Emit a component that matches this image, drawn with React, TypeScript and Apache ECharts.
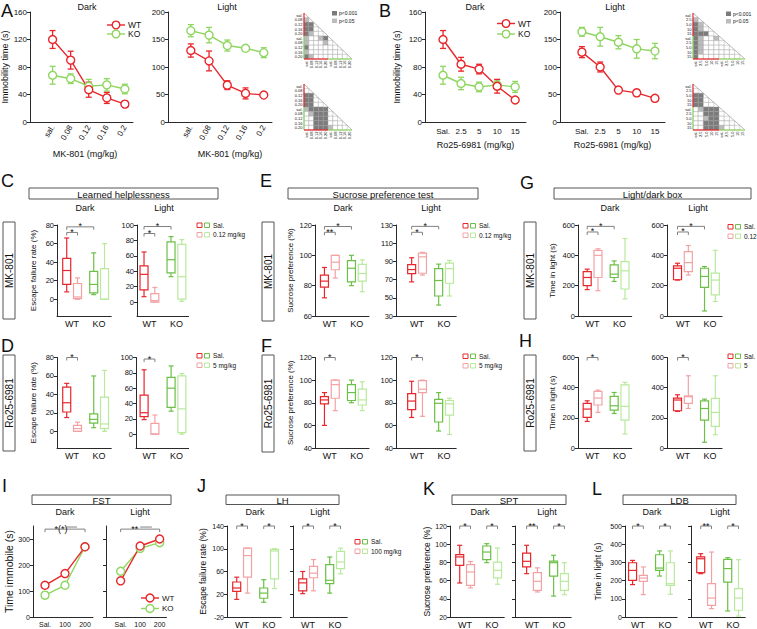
import React, { useEffect, useRef } from 'react';
import * as echarts from 'echarts';

const FONT = '"Liberation Sans", Arial, Helvetica, sans-serif';
const RED = '#e8262b';
const PINK = '#f3a2a4';
const KO_GREEN = '#8fd660';
const GREEN = '#6cc047';
const LGREEN = '#b8e99d';
const AXIS_C = '#2a2a2a';
const TXT = '#111111';
const BR_C = '#808080';
const HM_COLORS = ['#ffffff', '#bcbcbc', '#7b7b7b'];
const BOX_COLORS = [RED, PINK, GREEN, LGREEN];
const BOX_POS = [0.8, 1.2, 1.8, 2.2];
const GROUPS = ['WT', 'KO'];

// ---------- Panel A : MK-801 FST ----------
const A_DOSES = ['sal.', '0.08', '0.12', '0.16', '0.2'];
const A_DARK_WT = [120, 90, 47, 35, 26];
const A_DARK_WT_SEM = [13, 13, 11, 8, 4];
const A_DARK_KO = [68, 63, 52, 54, 48];
const A_DARK_KO_SEM = [13, 7, 10, 9, 7];
const A_LIGHT_WT = [130, 111, 67, 52, 49];
const A_LIGHT_WT_SEM = [12, 18, 8, 10, 2];
const A_LIGHT_KO = [166, 158, 139, 134, 126];
const A_LIGHT_KO_SEM = [11, 14, 10, 3, 9];
const A_TICKS_DARK = [0, 40, 80, 120, 160];
const A_TICKS_LIGHT = [0, 50, 100, 150, 200];

// ---------- Panel B : Ro25-6981 FST ----------
const B_DOSES = ['Sal.', '2.5', '5', '10', '15'];
const B_DARK_WT = [120, 84, 77, 52, 32];
const B_DARK_WT_SEM = [13, 10, 7, 10, 3];
const B_DARK_KO = [68, 56, 51, 54, 51];
const B_DARK_KO_SEM = [13, 9, 7, 7, 8];
const B_LIGHT_WT = [127, 100, 58, 53, 43];
const B_LIGHT_WT_SEM = [10, 9, 5, 6, 5];
const B_LIGHT_KO = [164, 155, 145, 133, 129];
const B_LIGHT_KO_SEM = [8, 17, 12, 17, 14];

// ---------- significance matrices (0 n.s., 1 p<0.05, 2 p<0.001) ----------
const HM_A_LABELS = ['sal.', '0.08', '0.12', '0.16', '0.20', 'sal.', '0.08', '0.12', '0.16', '0.20'];
const HM_B_LABELS = ['sal.', '2.5', '5.0', '10', '15', 'sal.', '2.5', '5.0', '10', '15'];
const HM_A_DARK = [[1], [2, 2], [2, 2, 0], [2, 1, 0, 0], [1, 0, 0, 1, 2], [1, 0, 0, 0, 1, 0], [2, 0, 0, 0, 0, 0, 0], [1, 0, 0, 0, 0, 0, 0, 0], [2, 1, 0, 0, 0, 0, 0, 0, 0]];
const HM_A_LIGHT = [[0], [2, 2], [2, 2, 0], [2, 2, 0, 0], [1, 2, 2, 2, 2], [0, 1, 2, 2, 2, 0], [0, 0, 2, 2, 2, 0, 0], [0, 0, 2, 2, 2, 0, 0, 0], [0, 0, 2, 2, 2, 1, 0, 0, 0]];
const HM_B_DARK = [[1], [2, 1], [2, 1, 0], [2, 2, 2, 0], [2, 1, 0, 0, 1], [2, 1, 0, 0, 0, 0], [2, 1, 0, 0, 0, 0, 0], [2, 1, 0, 0, 0, 0, 0, 0], [2, 0, 0, 0, 0, 0, 0, 0, 0]];
const HM_B_LIGHT = [[0], [2, 2], [2, 2, 0], [2, 2, 0, 0], [0, 1, 2, 2, 2], [0, 0, 2, 2, 2, 0], [0, 0, 1, 2, 2, 0, 0], [0, 0, 2, 2, 2, 0, 0, 0], [0, 0, 2, 2, 2, 1, 0, 0, 0]];

// ---------- Box panels: [min, q1, median, q3, max] ; WT Sal, WT drug, KO Sal, KO drug ----------
const C_DARK = [[8, 16, 31, 44, 66], [0, 0.7, 2.5, 17, 23], [5, 7, 16, 30, 50], [0, 0, 0, 33, 60]];
const C_LIGHT = [[7, 16, 36, 47, 65], [0, 0, 2, 11, 19], [33, 38, 55, 78, 85], [1, 4, 33, 75, 81]];
const D_DARK = [[15, 21, 31, 48, 52], [0, 0, 3, 6.5, 10], [4, 9, 13, 19, 60], [0, 3, 8, 37, 66]];
const D_LIGHT = [[19, 23, 28, 51, 84], [0, 0, 0, 14, 25], [30, 35, 60, 74, 89], [0, 2, 33, 76, 79]];
const E_DARK = [[72, 79, 83, 87, 92], [85, 90.5, 95.5, 100, 100], [80, 82.5, 91.5, 96.5, 100], [76, 83, 88, 94, 97]];
const E_LIGHT = [[67.5, 76.5, 81, 86.5, 94], [75, 77, 95, 99, 100], [42, 52, 69, 82, 87], [52, 66, 82, 88, 91]];
const F_DARK = [[60, 79, 82.5, 85.5, 89], [73, 84, 96, 100, 100], [80, 82, 89, 96, 100], [73, 78, 82.5, 92, 98.5]];
const F_LIGHT = [[67, 74, 81.5, 88, 99], [68, 89, 92, 99.5, 100], [55, 63, 79.5, 83, 89], [52, 69, 79, 82, 84]];
const G_DARK = [[174, 200, 254, 293, 309], [167, 254, 400, 433, 443], [228, 254, 276, 337, 363], [113, 178, 298, 359, 511]];
const G_LIGHT = [[237, 239, 315, 330, 348], [270, 293, 352, 424, 465], [33, 189, 261, 315, 326], [96, 139, 237, 283, 433]];
const H_DARK = [[176, 203, 258, 296, 313], [236, 285, 331, 375, 384], [229, 251, 280, 342, 368], [93, 185, 276, 419, 435]];
const H_LIGHT = [[243, 247, 318, 331, 353], [262, 296, 340, 346, 479], [38, 185, 262, 313, 324], [88, 143, 236, 329, 479]];
const J_DARK = [[11, 25, 31, 41.5, 50], [22, 50, 88, 101, 101], [6, 13, 22, 31, 45.6], [30, 47, 96, 99, 100]];
const J_LIGHT = [[21, 26, 40, 47, 60], [26, 49, 57, 69, 81], [22, 38.6, 44.5, 72, 85.5], [56, 65, 76.7, 95.5, 101]];
const K_DARK = [[57.4, 76.8, 86, 88.5, 98.8], [52, 54.8, 69.5, 77.5, 81], [79.7, 83, 91.4, 98, 100.6], [56, 62.9, 71.3, 80.4, 95.8]];
const K_LIGHT = [[67.6, 75, 81.2, 90.3, 98.8], [47.5, 49.3, 59.2, 68.7, 74], [43, 65, 79.7, 81.5, 87.8], [44.5, 49.3, 59.2, 67.6, 79.7]];
const L_DARK = [[178, 201, 256, 298, 311], [123, 196, 214, 229, 275], [225, 256, 269, 342, 363], [125, 174, 183, 298, 363]];
const L_LIGHT = [[238, 244, 320, 330, 348], [46, 64, 104, 183, 357], [33, 192, 266, 317, 326], [5, 37, 104, 156, 315]];

// significance brackets: [box a, box b, height, label]
const C_DARK_SIG = [[0, 1, 72, '*'], [0, 2, 78, '*']];
const C_LIGHT_SIG = [[0, 1, 89, '*'], [0, 2, 98, '*']];
const D_DARK_SIG = [[0, 1, 80, '*']];
const D_LIGHT_SIG = [[0, 1, 98, '*']];
const E_DARK_SIG = [[0, 1, 115.2, '**'], [0, 2, 119, '*']];
const E_LIGHT_SIG = [[0, 1, 122, '*'], [0, 2, 128.5, '*']];
const F_DARK_SIG = [[0, 1, 120, '*']];
const F_LIGHT_SIG = [[0, 1, 120, '*']];
const G_DARK_SIG = [[0, 1, 554, '*'], [0, 2, 591, '*']];
const G_LIGHT_SIG = [[0, 1, 554, '*'], [0, 2, 591, '*']];
const H_DARK_SIG = [[0, 1, 600, '*']];
const H_LIGHT_SIG = [[0, 1, 600, '*']];
const J_DARK_SIG = [[0, 1, 140, '*'], [2, 3, 140, '*']];
const J_LIGHT_SIG = [[0, 1, 140, '*'], [2, 3, 140, '*']];
const K_DARK_SIG = [[0, 1, 120, '*'], [2, 3, 120, '*']];
const K_LIGHT_SIG = [[0, 1, 120, '**'], [2, 3, 120, '*']];
const L_DARK_SIG = [[0, 1, 500, '*'], [2, 3, 500, '*']];
const L_LIGHT_SIG = [[0, 1, 500, '**'], [2, 3, 500, '*']];

// ---------- Panel I : FST ketamine-like ----------
const I_DOSES = ['Sal.', '100', '200'];
const I_DARK_WT = [122, 167, 270];
const I_DARK_WT_SEM = [5, 8, 6];
const I_DARK_KO = [84, 122, 270];
const I_DARK_KO_SEM = [12, 6, 5];
const I_LIGHT_WT = [139, 273, 300];
const I_LIGHT_WT_SEM = [5, 6, 6];
const I_LIGHT_KO = [176, 264, 286];
const I_LIGHT_KO_SEM = [5, 5, 5];
const I_TICKS = [0, 100, 200, 300];
// [x1, x2, height, label, label x]
const I_DARK_SIG = [[0, 2, 338, '*(*)', 0.8]];
const I_LIGHT_SIG = [[0, 2, 338, '**', 0.72]];
const I_SUB = [[1, 1.6, 346]];

function buildOption() {
  const grid: any[] = [];
  const xAxis: any[] = [];
  const yAxis: any[] = [];
  const series: any[] = [];
  const graphic: any[] = [];

  const add = (g: any, xa: any, ya: any) => {
    const i = grid.length;
    grid.push({ ...g, containLabel: false, outerBoundsMode: 'none' });
    xAxis.push({ ...xa, gridIndex: i });
    yAxis.push({ ...ya, gridIndex: i });
    return i;
  };

  const txt = (x: number, y: number, text: string, size: number, o: any = {}) => ({
    type: 'text', x, y, rotation: o.rot || 0, silent: true, z: 10,
    style: {
      text, fill: o.fill || TXT, fontSize: size, fontFamily: FONT,
      textAlign: o.align || 'center', textVerticalAlign: o.valign || 'middle',
      align: o.align || 'center', verticalAlign: o.valign || 'middle',
    },
  });

  const yDef = (min: number, max: number, ticks: number[], o: any = {}) => ({
    type: 'value', min, max,
    splitLine: { show: false },
    axisLine: { show: true, onZero: false, lineStyle: { color: AXIS_C, width: 1 } },
    axisTick: { show: true, inside: false, length: 3, customValues: ticks, lineStyle: { color: AXIS_C, width: 1 } },
    axisLabel: { show: o.labels !== false, customValues: ticks, fontSize: o.fs || 8, color: TXT, fontFamily: FONT, margin: 3 },
    name: o.name || '', nameLocation: 'middle', nameGap: o.nameGap || 20,
    nameTextStyle: { fontSize: o.ns || 9, color: TXT, fontFamily: FONT },
  });

  const xDef = (min: number, max: number, ticks: number[], labels: string[], o: any = {}) => ({
    type: 'value', min, max,
    splitLine: { show: false },
    axisLine: { show: true, onZero: false, lineStyle: { color: AXIS_C, width: 1 } },
    axisTick: { show: false },
    axisLabel: {
      customValues: ticks,
      formatter: (v: number) => {
        const k = ticks.findIndex((t) => Math.abs(t - v) < 1e-6);
        return k >= 0 ? labels[k] : '';
      },
      rotate: o.rotate || 0, fontSize: o.fs || 8, color: TXT, fontFamily: FONT, margin: o.margin || 4,
    },
    name: o.name || '', nameLocation: 'middle', nameGap: o.nameGap || 20,
    nameTextStyle: { fontSize: o.ns || 9, color: TXT, fontFamily: FONT },
  });

  const errRender = (color: string) => (params: any, api: any) => {
    const x = api.value(0);
    const lo = api.coord([x, api.value(1)]);
    const hi = api.coord([x, api.value(2)]);
    const cw = 3;
    const st = { stroke: color, lineWidth: 1.3 };
    return {
      type: 'group', children: [
        { type: 'line', shape: { x1: lo[0], y1: lo[1], x2: hi[0], y2: hi[1] }, style: st },
        { type: 'line', shape: { x1: lo[0] - cw, y1: lo[1], x2: lo[0] + cw, y2: lo[1] }, style: st },
        { type: 'line', shape: { x1: hi[0] - cw, y1: hi[1], x2: hi[0] + cw, y2: hi[1] }, style: st },
      ],
    };
  };

  const sigSeries = (gi: number, items: any[]) => ({
    type: 'custom', xAxisIndex: gi, yAxisIndex: gi, silent: true, z: 6,
    data: items.map((s) => [s.x1, s.x2, s.y]),
    renderItem: (params: any, api: any) => {
      const s = items[params.dataIndex];
      const a = api.coord([api.value(0), api.value(2)]);
      const b = api.coord([api.value(1), api.value(2)]);
      const children: any[] = [];
      const tick = s.noTicks ? 0 : 3;
      children.push({
        type: 'polyline',
        shape: { points: [[a[0], a[1] + tick], a, b, [b[0], b[1] + tick]] },
        style: { stroke: BR_C, lineWidth: 1, fill: 'none' },
      });
      if (s.label) {
        const tx = s.tx !== undefined ? api.coord([s.tx, api.value(2)])[0] : (a[0] + b[0]) / 2;
        children.push({
          type: 'text', x: tx, y: a[1] + 4,
          style: { text: s.label, fill: TXT, fontSize: 9, fontFamily: FONT, textAlign: 'center', textVerticalAlign: 'bottom', align: 'center', verticalAlign: 'bottom' },
        });
      }
      return { type: 'group', children };
    },
  });

  const linePanel = (p: any) => {
    const gi = add(
      { left: p.left, top: p.top, width: p.width, height: p.height },
      xDef(p.xmin, p.xmax, p.labels.map((_: any, i: number) => i), p.labels, p.x),
      yDef(p.ymin, p.ymax, p.ticks, p.y)
    );
    p.sets.forEach((s: any) => {
      series.push({
        type: 'custom', xAxisIndex: gi, yAxisIndex: gi, silent: true, z: 2,
        data: s.vals.map((v: number, i: number) => [i, v - s.sem[i], v + s.sem[i]]),
        renderItem: errRender(s.color),
      });
      series.push({
        type: 'line', xAxisIndex: gi, yAxisIndex: gi, silent: true, z: 3,
        data: s.vals.map((v: number, i: number) => [i, v]),
        symbol: 'circle', symbolSize: p.sym || 8,
        itemStyle: { color: '#ffffff', borderColor: s.color, borderWidth: 1.4 },
        lineStyle: { color: s.color, width: 1.4 },
      });
    });
    return gi;
  };

  const boxRender = (params: any, api: any) => {
    const col = BOX_COLORS[params.dataIndex];
    const x = api.value(0);
    const Y = (d: number) => api.coord([x, api.value(d)])[1];
    const cx = api.coord([x, api.value(1)])[0];
    const mn = Y(1), q1 = Y(2), md = Y(3), q3 = Y(4), mx = Y(5);
    const hw = 4, cw = 2.5;
    const st = { stroke: col, lineWidth: 1.2, fill: 'none' };
    return {
      type: 'group', children: [
        { type: 'line', shape: { x1: cx, y1: mn, x2: cx, y2: q1 }, style: st },
        { type: 'line', shape: { x1: cx, y1: q3, x2: cx, y2: mx }, style: st },
        { type: 'line', shape: { x1: cx - cw, y1: mn, x2: cx + cw, y2: mn }, style: st },
        { type: 'line', shape: { x1: cx - cw, y1: mx, x2: cx + cw, y2: mx }, style: st },
        { type: 'rect', shape: { x: cx - hw, y: q3, width: 2 * hw, height: Math.max(q1 - q3, 0.6) }, style: st },
        { type: 'line', shape: { x1: cx - hw, y1: md, x2: cx + hw, y2: md }, style: st },
      ],
    };
  };

  const boxPanel = (p: any) => {
    const xmax = 2.45;
    const width = (xmax - p.xmin) * 27;
    const gi = add(
      { left: p.left, top: p.top, width, height: p.height },
      xDef(p.xmin, xmax, [1, 2], GROUPS, { fs: 9, margin: 3 }),
      yDef(p.ymin, p.ymax, p.ticks, { labels: p.labels, name: p.name, nameGap: p.nameGap, fs: p.fs || 7.5, ns: p.ns || 8 })
    );
    series.push({
      type: 'custom', xAxisIndex: gi, yAxisIndex: gi, silent: true, z: 4,
      data: p.boxes.map((b: number[], k: number) => [BOX_POS[k], ...b]),
      renderItem: boxRender,
    });
    series.push(sigSeries(gi, p.sig.map((s: any[]) => ({ x1: BOX_POS[s[0]], x2: BOX_POS[s[1]], y: s[2], label: s[3] }))));
  };

  const heatPanel = (left: number, top: number, w: number, h: number, labels: string[], matrix: number[][]) => {
    const ticks = labels.map((_, i) => i + 0.5);
    const fmt = (v: number) => labels[Math.floor(v)] || '';
    const ax = (inverse: boolean, rotate: number) => ({
      type: 'value', min: 0, max: 10, inverse,
      splitLine: { show: false }, axisLine: { show: false }, axisTick: { show: false },
      axisLabel: { customValues: ticks, formatter: fmt, rotate, fontSize: 4, margin: 1.5, color: TXT, fontFamily: FONT },
    });
    const gi = add({ left, top, width: w, height: h }, ax(false, 90), ax(true, 0));
    const data: number[][] = [];
    matrix.forEach((row, r) => row.forEach((v, c) => data.push([c, r + 1, v])));
    series.push({
      type: 'custom', xAxisIndex: gi, yAxisIndex: gi, silent: true, z: 2, data,
      renderItem: (params: any, api: any) => {
        const c = api.value(0), r = api.value(1), v = api.value(2);
        const p0 = api.coord([c, r]);
        const p1 = api.coord([c + 1, r + 1]);
        return {
          type: 'rect',
          shape: { x: Math.min(p0[0], p1[0]), y: Math.min(p0[1], p1[1]), width: Math.abs(p1[0] - p0[0]), height: Math.abs(p1[1] - p0[1]) },
          style: { fill: HM_COLORS[v], stroke: '#a0a0a0', lineWidth: 0.4 },
        };
      },
    });
    series.push({
      type: 'custom', xAxisIndex: gi, yAxisIndex: gi, silent: true, z: 3, data: [[0, 0]],
      renderItem: (params: any, api: any) => {
        const P = (x: number, y: number) => api.coord([x, y]);
        const seg = (a: number[], b: number[], color: string, lw: number) => ({
          type: 'line', shape: { x1: a[0], y1: a[1], x2: b[0], y2: b[1] }, style: { stroke: color, lineWidth: lw },
        });
        return {
          type: 'group', children: [
            seg(P(0, 0), P(10, 10), '#8a8a8a', 0.6),
            seg(P(0, 0), P(0, 5), RED, 1.2),
            seg(P(0, 5), P(0, 10), KO_GREEN, 1.2),
            seg(P(0, 10), P(5, 10), RED, 1.2),
            seg(P(5, 10), P(10, 10), KO_GREEN, 1.2),
          ],
        };
      },
    });
  };

  // ===== Panel A =====
  linePanel({
    left: 30, top: 12, width: 103, height: 110, xmin: -1.25, xmax: 4.45, ymin: 0, ymax: 160,
    labels: A_DOSES, ticks: A_TICKS_DARK, sym: 8,
    x: { rotate: 60, fs: 8, margin: 4 },
    y: { name: 'Immobility time (s)', nameGap: 19, fs: 8, ns: 9 },
    sets: [
      { vals: A_DARK_KO, sem: A_DARK_KO_SEM, color: KO_GREEN },
      { vals: A_DARK_WT, sem: A_DARK_WT_SEM, color: RED },
    ],
  });
  linePanel({
    left: 168, top: 12, width: 104, height: 110, xmin: -1.25, xmax: 4.45, ymin: 0, ymax: 200,
    labels: A_DOSES, ticks: A_TICKS_LIGHT, sym: 8,
    x: { rotate: 60, fs: 8, margin: 4 },
    y: { fs: 8 },
    sets: [
      { vals: A_LIGHT_KO, sem: A_LIGHT_KO_SEM, color: KO_GREEN },
      { vals: A_LIGHT_WT, sem: A_LIGHT_WT_SEM, color: RED },
    ],
  });
  graphic.push(txt(85, 154, 'MK-801 (mg/kg)', 9));
  graphic.push(txt(230, 154, 'MK-801 (mg/kg)', 9));

  // ===== Panel B =====
  linePanel({
    left: 425, top: 12, width: 101, height: 110, xmin: -1, xmax: 4.6, ymin: 0, ymax: 160,
    labels: B_DOSES, ticks: A_TICKS_DARK, sym: 8,
    x: { fs: 8, margin: 5, name: 'Ro25-6981 (mg/kg)', nameGap: 18, ns: 9 },
    y: { name: 'Immobility time (s)', nameGap: 24, fs: 8, ns: 9 },
    sets: [
      { vals: B_DARK_KO, sem: B_DARK_KO_SEM, color: KO_GREEN },
      { vals: B_DARK_WT, sem: B_DARK_WT_SEM, color: RED },
    ],
  });
  linePanel({
    left: 560, top: 12, width: 105, height: 110, xmin: -1.2, xmax: 4.55, ymin: 0, ymax: 200,
    labels: B_DOSES, ticks: A_TICKS_LIGHT, sym: 8,
    x: { fs: 8, margin: 5, name: 'Ro25-6981 (mg/kg)', nameGap: 18, ns: 9 },
    y: { fs: 8 },
    sets: [
      { vals: B_LIGHT_KO, sem: B_LIGHT_KO_SEM, color: KO_GREEN },
      { vals: B_LIGHT_WT, sem: B_LIGHT_WT_SEM, color: RED },
    ],
  });

  // ===== heatmaps =====
  heatPanel(304, 13, 48, 46, HM_A_LABELS, HM_A_DARK);
  heatPanel(304, 84, 48, 46, HM_A_LABELS, HM_A_LIGHT);
  heatPanel(693, 13, 52, 46, HM_B_LABELS, HM_B_DARK);
  heatPanel(693, 84, 52, 46, HM_B_LABELS, HM_B_LIGHT);
  const hmLegend = (x: number, y: number) => {
    graphic.push({ type: 'rect', silent: true, shape: { x, y: y - 2, width: 5, height: 4.5 }, style: { fill: HM_COLORS[2] } });
    graphic.push(txt(x + 7, y, 'p<0.001', 5, { align: 'left' }));
    graphic.push({ type: 'rect', silent: true, shape: { x, y: y + 5.5, width: 5, height: 4.5 }, style: { fill: HM_COLORS[1] } });
    graphic.push(txt(x + 7, y + 7.5, 'p<0.05', 5, { align: 'left' }));
  };
  hmLegend(332, 13);
  hmLegend(726, 13.5);

  // ===== Box panels =====
  const R1 = { top: 225, height: 91 };
  const R2 = { top: 357.5, height: 90.5 };
  const R3 = { top: 526, height: 91 };
  const C_TICKS_D = [0, 20, 40, 60, 80];
  const C_TICKS_L = [0, 20, 40, 60, 80, 100];
  const E_TICKS_D = [60, 80, 100, 120];
  const E_TICKS_L = [30, 50, 70, 90, 110, 130];
  const F_TICKS = [40, 60, 80, 100, 120];
  const G_TICKS = [0, 200, 400, 600];
  const J_TICKS = [-20, 20, 60, 100, 140];
  const K_TICKS = [20, 40, 60, 80, 100, 120];
  const L_TICKS = [0, 100, 200, 300, 400, 500];

  boxPanel({ ...R1, left: 57, xmin: 0.44, ymin: -18, ymax: 80, ticks: C_TICKS_D, boxes: C_DARK, sig: C_DARK_SIG, name: 'Escape failure rate (%)', nameGap: 20 });
  boxPanel({ ...R1, left: 137, xmin: 0.54, ymin: -18, ymax: 100, ticks: C_TICKS_L, boxes: C_LIGHT, sig: C_LIGHT_SIG });
  boxPanel({ ...R2, left: 57, xmin: 0.44, ymin: -18, ymax: 80, ticks: C_TICKS_D, boxes: D_DARK, sig: D_DARK_SIG, name: 'Escape failure rate (%)', nameGap: 20 });
  boxPanel({ ...R2, left: 136, xmin: 0.5, ymin: -18, ymax: 100, ticks: C_TICKS_L, boxes: D_LIGHT, sig: D_LIGHT_SIG });

  boxPanel({ ...R1, left: 315, xmin: 0.45, ymin: 60, ymax: 120, ticks: E_TICKS_D, boxes: E_DARK, sig: E_DARK_SIG, name: 'Sucrose preference (%)', nameGap: 21 });
  boxPanel({ ...R1, left: 396, xmin: 0.22, ymin: 30, ymax: 130, ticks: E_TICKS_L, boxes: E_LIGHT, sig: E_LIGHT_SIG });
  boxPanel({ ...R2, left: 315, xmin: 0.45, ymin: 40, ymax: 120, ticks: F_TICKS, boxes: F_DARK, sig: F_DARK_SIG, name: 'Sucrose preference (%)', nameGap: 21 });
  boxPanel({ ...R2, left: 396, xmin: 0.22, ymin: 40, ymax: 120, ticks: F_TICKS, boxes: F_LIGHT, sig: F_LIGHT_SIG });

  boxPanel({ ...R1, left: 578, xmin: 0.46, ymin: 0, ymax: 600, ticks: G_TICKS, boxes: G_DARK, sig: G_DARK_SIG, name: 'Time in light (s)', nameGap: 22 });
  boxPanel({ ...R1, left: 667, xmin: 0.41, ymin: 0, ymax: 600, ticks: G_TICKS, boxes: G_LIGHT, sig: G_LIGHT_SIG });
  boxPanel({ ...R2, left: 578, xmin: 0.46, ymin: 0, ymax: 600, ticks: G_TICKS, boxes: H_DARK, sig: H_DARK_SIG, name: 'Time in light (s)', nameGap: 22 });
  boxPanel({ ...R2, left: 667, xmin: 0.41, ymin: 0, ymax: 600, ticks: G_TICKS, boxes: H_LIGHT, sig: H_LIGHT_SIG });

  boxPanel({ ...R3, left: 227, xmin: 0.44, ymin: -20, ymax: 140, ticks: J_TICKS, boxes: J_DARK, sig: J_DARK_SIG, name: 'Escape failure rate (%)', nameGap: 20, fs: 7, ns: 8.5 });
  boxPanel({ ...R3, left: 293, xmin: 0.44, ymin: -20, ymax: 140, ticks: J_TICKS, boxes: J_LIGHT, sig: J_LIGHT_SIG, labels: false });
  boxPanel({ ...R3, left: 450, xmin: 0.44, ymin: 20, ymax: 120, ticks: K_TICKS, boxes: K_DARK, sig: K_DARK_SIG, name: 'Sucrose preference (%)', nameGap: 18, fs: 7, ns: 8.5 });
  boxPanel({ ...R3, left: 515, xmin: 0.37, ymin: 20, ymax: 120, ticks: K_TICKS, boxes: K_LIGHT, sig: K_LIGHT_SIG, labels: false });
  boxPanel({ ...R3, left: 625, xmin: 0.52, ymin: 0, ymax: 500, ticks: L_TICKS, boxes: L_DARK, sig: L_DARK_SIG, name: 'Time in light (s)', nameGap: 23, fs: 7, ns: 8.5 });
  boxPanel({ ...R3, left: 691, xmin: 0.44, ymin: 0, ymax: 500, ticks: L_TICKS, boxes: L_LIGHT, sig: L_LIGHT_SIG, labels: false });

  // ===== Panel I =====
  const iDark = linePanel({
    left: 33, top: 526, width: 60, height: 91, xmin: -0.6, xmax: 2.4, ymin: 0, ymax: 350,
    labels: I_DOSES, ticks: I_TICKS, sym: 8,
    x: { fs: 7, margin: 4 },
    y: { name: 'Time immobile (s)', nameGap: 19, fs: 7, ns: 10.5 },
    sets: [
      { vals: I_DARK_KO, sem: I_DARK_KO_SEM, color: KO_GREEN },
      { vals: I_DARK_WT, sem: I_DARK_WT_SEM, color: RED },
    ],
  });
  const iLight = linePanel({
    left: 106, top: 526, width: 60.5, height: 91, xmin: -0.75, xmax: 2.35, ymin: 0, ymax: 350,
    labels: I_DOSES, ticks: I_TICKS, sym: 8,
    x: { fs: 7, margin: 4 },
    y: { labels: false, fs: 7 },
    sets: [
      { vals: I_LIGHT_KO, sem: I_LIGHT_KO_SEM, color: KO_GREEN },
      { vals: I_LIGHT_WT, sem: I_LIGHT_WT_SEM, color: RED },
    ],
  });
  series.push(sigSeries(iDark, [
    ...I_DARK_SIG.map((s: any[]) => ({ x1: s[0], x2: s[1], y: s[2], label: s[3], tx: s[4] })),
    ...I_SUB.map((s) => ({ x1: s[0], x2: s[1], y: s[2], noTicks: true })),
  ]));
  series.push(sigSeries(iLight, [
    ...I_LIGHT_SIG.map((s: any[]) => ({ x1: s[0], x2: s[1], y: s[2], label: s[3], tx: s[4] })),
    ...I_SUB.map((s) => ({ x1: s[0], x2: s[1], y: s[2], noTicks: true })),
  ]));

  // ===== line legends =====
  const lineLegend = (x: number, y: number, color: string, label: string, r: number, fs: number) => {
    graphic.push({ type: 'line', silent: true, shape: { x1: x, y1: y, x2: x + 18, y2: y }, style: { stroke: color, lineWidth: 1.4 } });
    graphic.push({ type: 'circle', silent: true, shape: { cx: x + 9, cy: y, r }, style: { fill: '#fff', stroke: color, lineWidth: 1.4 } });
    graphic.push(txt(x + 21, y, label, fs, { align: 'left' }));
  };
  lineLegend(107, 25, RED, 'WT', 3.8, 8.5);
  lineLegend(107, 34, KO_GREEN, 'KO', 3.8, 8.5);
  lineLegend(497, 23.5, RED, 'WT', 3.8, 8.5);
  lineLegend(497, 34, KO_GREEN, 'KO', 3.8, 8.5);
  lineLegend(141, 598, RED, 'WT', 4, 8);
  lineLegend(141, 608.5, KO_GREEN, 'KO', 4, 8);

  // ===== box legends =====
  const boxLegend = (x: number, y: number, l1: string, l2: string) => {
    const sq = (sx: number, sy: number, c: string) => graphic.push({ type: 'rect', silent: true, shape: { x: sx, y: sy, width: 5, height: 4.5 }, style: { fill: 'none', stroke: c, lineWidth: 1 } });
    sq(x, y, RED); sq(x + 7.5, y, GREEN);
    sq(x, y + 9.5, PINK); sq(x + 7.5, y + 9.5, LGREEN);
    graphic.push(txt(x + 16, y + 2.3, l1, 6.5, { align: 'left' }));
    graphic.push(txt(x + 16, y + 11.8, l2, 6.5, { align: 'left' }));
  };
  boxLegend(197, 223, 'Sal.', '0.12 mg/kg');
  boxLegend(197, 353.5, 'Sal.', '5 mg/kg');
  boxLegend(463, 223.5, 'Sal.', '0.12 mg/kg');
  boxLegend(463, 354, 'Sal.', '5 mg/kg');
  boxLegend(728, 224.5, 'Sal.', '0.12');
  boxLegend(728, 354, 'Sal.', '5');
  boxLegend(355, 539.5, 'Sal.', '100 mg/kg');

  // ===== titles Dark / Light =====
  const TITLES: any[] = [
    [87, 7], [227, 7], [475, 7], [615, 7],
    [85, 208], [164, 208], [343, 208], [431, 208], [610, 208], [698, 208],
    [65, 512], [140, 512], [255, 512], [320, 512], [480, 512], [547, 512], [652, 512], [720, 512],
  ];
  TITLES.forEach((t, i) => graphic.push(txt(t[0], t[1], i % 2 === 0 ? 'Dark' : 'Light', 9)));

  // ===== section headers =====
  const header = (x: number, y: number, w: number, h: number, label: string) => {
    graphic.push({ type: 'rect', silent: true, shape: { x, y, width: w, height: h }, style: { fill: '#fff', stroke: '#555', lineWidth: 1 } });
    graphic.push(txt(x + w / 2, y + h / 2 + 0.5, label, 9.5));
  };
  header(29, 188, 189, 11, 'Learned helplessness');
  header(288, 188, 190, 11, 'Sucrose preference test');
  header(554, 188, 197, 11, 'Light/dark box');
  header(32, 495, 139, 9.5, 'FST');
  header(226, 495, 113, 9.5, 'LH');
  header(452, 495, 114, 9.5, 'SPT');
  header(623, 495, 113, 9.5, 'LDB');

  // ===== row labels =====
  const rowLabel = (x: number, y: number, w: number, h: number, label: string) => {
    graphic.push({ type: 'rect', silent: true, shape: { x, y, width: w, height: h }, style: { fill: '#fff', stroke: '#555', lineWidth: 1 } });
    graphic.push(txt(x + w / 2 + 0.5, y + h / 2, label, 10, { rot: Math.PI / 2 }));
  };
  rowLabel(3, 222, 12, 97, 'MK-801');
  rowLabel(3, 355, 12, 96, 'Ro25-6981');
  rowLabel(262, 222, 12, 99, 'MK-801');
  rowLabel(262, 355, 12, 97, 'Ro25-6981');
  rowLabel(524, 222, 12, 97, 'MK-801');
  rowLabel(524, 355, 12, 96, 'Ro25-6981');

  // ===== panel letters =====
  const LETTERS: any[] = [
    ['A', 1, 2], ['B', 379, 2], ['C', 1, 172], ['E', 260, 172], ['G', 520, 174],
    ['D', 1, 337], ['F', 261, 337], ['H', 519, 332],
    ['I', 2, 477], ['J', 197, 477], ['K', 423, 480], ['L', 592, 480],
  ];
  LETTERS.forEach((l) => graphic.push(txt(l[1], l[2], l[0], 18, { align: 'left', valign: 'top' })));

  return {
    animation: false,
    backgroundColor: '#ffffff',
    textStyle: { fontFamily: FONT },
    grid, xAxis, yAxis, series,
    graphic: { elements: graphic },
  };
}

export default function App() {
  const ref = useRef<HTMLDivElement>(null);
  useEffect(() => {
    if (!ref.current) return;
    const chart = echarts.init(ref.current, undefined, { renderer: 'svg' });
    chart.setOption(buildOption() as any);
    return () => chart.dispose();
  }, []);
  return (
    <div
      ref={ref}
      style={{ position: 'fixed', left: 0, top: 0, width: 757, height: 629, background: '#fff' }}
    />
  );
}
